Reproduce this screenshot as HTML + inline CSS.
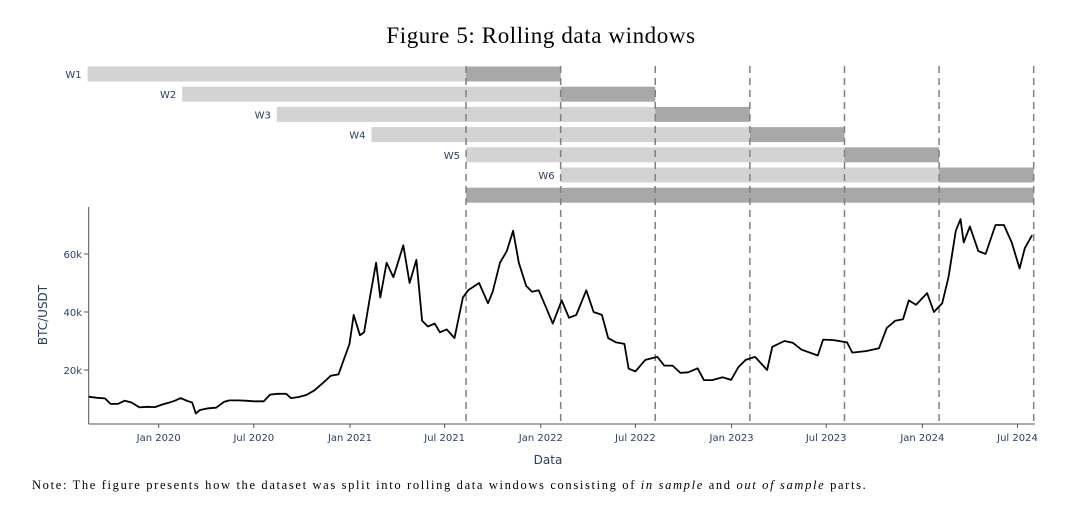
<!DOCTYPE html>
<html><head><meta charset="utf-8">
<style>
body{margin:0;background:#fff;width:1080px;height:513px;overflow:hidden}
svg text{font-family:"DejaVu Sans","Liberation Sans",sans-serif}
</style></head>
<body>
<svg id="chart" width="1080" height="513" viewBox="0 0 1080 513" xmlns="http://www.w3.org/2000/svg">
<text x="541" y="43" text-anchor="middle" style="font-family:'Liberation Serif',serif;font-size:23px;letter-spacing:0.6px" fill="#000">Figure 5:  Rolling data windows</text>
<g id="bars"></g>
<g id="dashes"></g>
<g id="axes"></g>
<path id="price" fill="none" stroke="#000" stroke-width="1.8" stroke-linejoin="round"></path>
<text x="548" y="464" text-anchor="middle" font-size="12" fill="#2a3f5f">Data</text>
<text transform="translate(47,315) rotate(-90)" text-anchor="middle" font-size="12" fill="#2a3f5f">BTC/USDT</text>
<text x="32" y="489" style="font-family:'Liberation Serif',serif;font-size:12.5px;letter-spacing:1.65px" fill="#000">Note:  The figure presents how the dataset was split into rolling data windows consisting of <tspan font-style="italic">in sample</tspan> and <tspan font-style="italic">out of sample</tspan> parts.</text>
</svg>
<script>
const priceDates=["2019-08-20","2019-09-05","2019-09-20","2019-10-01","2019-10-15","2019-10-28","2019-11-10","2019-11-25","2019-12-10","2019-12-25","2020-01-08","2020-01-20","2020-02-01","2020-02-12","2020-02-25","2020-03-05","2020-03-12","2020-03-20","2020-04-05","2020-04-20","2020-05-05","2020-05-15","2020-06-01","2020-06-15","2020-07-01","2020-07-20","2020-08-01","2020-08-15","2020-09-01","2020-09-10","2020-09-25","2020-10-10","2020-10-25","2020-11-10","2020-11-25","2020-12-10","2020-12-20","2020-12-31","2021-01-08","2021-01-20","2021-01-28","2021-02-08","2021-02-20","2021-02-28","2021-03-12","2021-03-25","2021-04-13","2021-04-25","2021-05-08","2021-05-19","2021-05-30","2021-06-12","2021-06-22","2021-07-05","2021-07-20","2021-08-05","2021-08-15","2021-09-05","2021-09-22","2021-10-01","2021-10-15","2021-10-28","2021-11-09","2021-11-20","2021-12-04","2021-12-15","2021-12-28","2022-01-10","2022-01-24","2022-02-10","2022-02-24","2022-03-10","2022-03-29","2022-04-12","2022-04-28","2022-05-10","2022-05-25","2022-06-10","2022-06-18","2022-07-01","2022-07-20","2022-08-12","2022-08-25","2022-09-10","2022-09-25","2022-10-10","2022-10-28","2022-11-09","2022-11-25","2022-12-15","2022-12-31","2023-01-14","2023-01-28","2023-02-15","2023-03-10","2023-03-20","2023-04-12","2023-04-28","2023-05-15","2023-06-15","2023-06-25","2023-07-15","2023-08-10","2023-08-20","2023-09-15","2023-10-10","2023-10-25","2023-11-10","2023-11-25","2023-12-06","2023-12-20","2024-01-10","2024-01-23","2024-02-08","2024-02-20","2024-03-05","2024-03-14","2024-03-20","2024-04-01","2024-04-17","2024-05-01","2024-05-20","2024-06-05","2024-06-20","2024-07-05","2024-07-15","2024-07-29"];
const priceValues=[10800,10400,10200,8300,8300,9400,8800,7100,7300,7200,8100,8700,9400,10300,9300,8800,5000,6200,6800,7000,9000,9500,9500,9400,9200,9200,11500,11800,11800,10300,10700,11400,13000,15500,18000,18500,23500,29000,39000,32000,33000,45000,57000,45000,57000,52000,63000,50000,58000,37000,35000,36000,33000,34000,31000,45000,47500,50000,43000,47000,57000,61000,68000,57000,49000,47000,47500,42000,36000,44000,38000,39000,47500,40000,39000,31000,29500,29000,20500,19500,23500,24500,21500,21500,19000,19200,20600,16500,16500,17500,16600,21000,23500,24500,20000,28000,30000,29400,27000,25000,30500,30300,29500,26000,26500,27500,34500,37000,37500,44000,42500,46500,40000,43000,52000,68000,72000,64000,69500,61000,60000,70000,70000,64000,55000,62000,66500];
const xTickLabels=["Jan 2020","Jul 2020","Jan 2021","Jul 2021","Jan 2022","Jul 2022","Jan 2023","Jul 2023","Jan 2024","Jul 2024"];
const xTickDates=["2020-01-01","2020-07-01","2021-01-01","2021-07-01","2022-01-01","2022-07-01","2023-01-01","2023-07-01","2024-01-01","2024-07-01"];
const yTickValues=[20000,40000,60000];
const yTickLabels=["20k","40k","60k"];
const windowLabels=["W1","W2","W3","W4","W5","W6"];
const windowStarts=["2019-08-18","2020-02-15","2020-08-14","2021-02-11","2021-08-11","2022-02-08"];
const splitDates=["2021-08-11","2022-02-08","2022-08-08","2023-02-05","2023-08-05","2024-02-02","2024-08-01"];

const NS="http://www.w3.org/2000/svg";
const t0=Date.parse("2020-01-01"),x0=158.7,pxPerDay=0.5227;
function X(d){return x0+(Date.parse(d)-t0)/86400000*pxPerDay;}
function Y(v){return 428-v*0.0029;}
function mk(tag,attrs,parent){const e=document.createElementNS(NS,tag);for(const k in attrs)e.setAttribute(k,attrs[k]);parent.appendChild(e);return e;}

const bars=document.getElementById('bars');
for(let i=0;i<windowLabels.length;i++){
  const yc=74+i*20.2, xs=X(windowStarts[i]), xm=X(splitDates[i]), xe=X(splitDates[i+1]);
  const l=mk('rect',{x:xs,y:yc-7.5,width:xm-xs,height:15,fill:'#d3d3d3'},bars);
  
  
  const d=mk('rect',{x:xm,y:yc-7.5,width:xe-xm,height:15,fill:'#a8a8a8'},bars);
  
  
  const t=mk('text',{x:xs-6,y:yc+4,'text-anchor':'end','font-size':'10',fill:'#2a3f5f'},bars);
  t.textContent=windowLabels[i];
  
  
}
const yc7=74+6*20.2;
const full=mk('rect',{x:X(splitDates[0]),y:yc7-7.5,width:X(splitDates[6])-X(splitDates[0]),height:15,fill:'#a8a8a8'},bars);



const dashes=document.getElementById('dashes');
splitDates.forEach(d=>{
  const l=mk('line',{x1:X(d),x2:X(d),y1:66,y2:424,stroke:'#808080','stroke-width':1.5,'stroke-dasharray':'7,5'},dashes);
  
  
});

const axes=document.getElementById('axes');
const ya=mk('line',{x1:88.7,x2:88.7,y1:207,y2:424,stroke:'#555','stroke-width':1},axes);


const xa=mk('line',{x1:88.7,x2:1035,y1:424,y2:424,stroke:'#555','stroke-width':1},axes);


yTickValues.forEach((v,i)=>{
  mk('line',{x1:84,x2:88.7,y1:Y(v),y2:Y(v),stroke:'#555'},axes);
  const t=mk('text',{x:82,y:Y(v)+4,'text-anchor':'end','font-size':'10',fill:'#2a3f5f'},axes);
  t.textContent=yTickLabels[i];
  
  
});
xTickDates.forEach((d,i)=>{
  mk('line',{x1:X(d),x2:X(d),y1:424,y2:428,stroke:'#555'},axes);
  const t=mk('text',{x:X(d),y:441,'text-anchor':'middle','font-size':'10',fill:'#2a3f5f'},axes);
  t.textContent=xTickLabels[i];
  
  
});

let p='';
priceDates.forEach((d,i)=>{p+=(i?'L':'M')+X(d).toFixed(1)+','+Y(priceValues[i]).toFixed(1);});
document.getElementById('price').setAttribute('d',p);
</script>
</body></html>
